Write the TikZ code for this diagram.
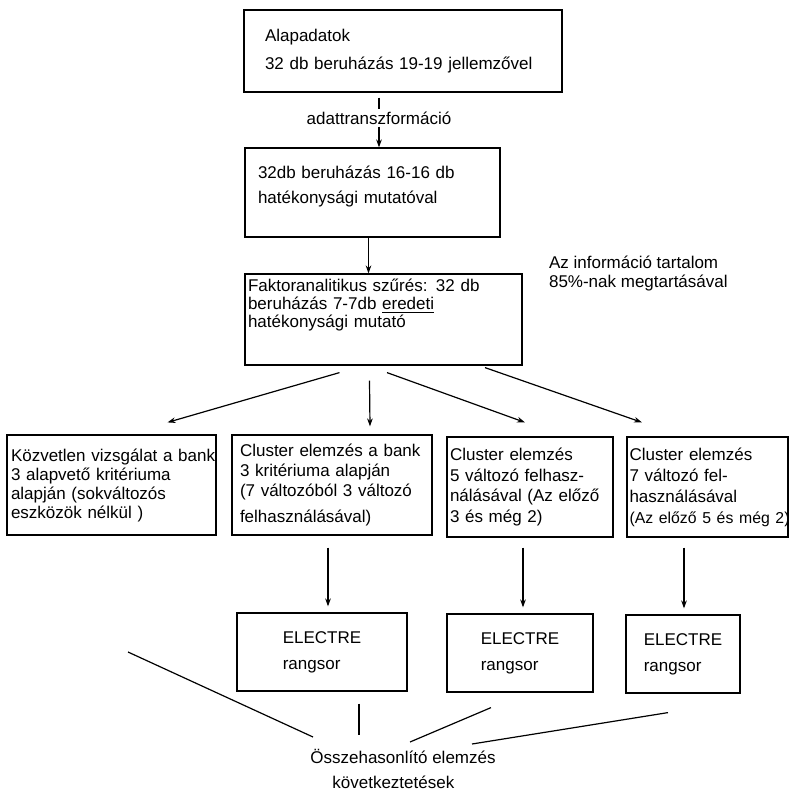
\documentclass[tikz,border=0pt]{standalone}
\usepackage{fontspec}
\setmainfont{Liberation Sans}
\usetikzlibrary{arrows.meta}
\begin{document}
\begin{tikzpicture}[x=0.5pt,y=-0.5pt,
    doboz/.style={draw,line width=0.6pt,align=left,inner ysep=0pt},
    nyil/.style={line width=0.6pt,-{Stealth[length=4pt,width=2.8pt]}},
    vonal/.style={line width=0.6pt}]
    \useasboundingbox (0,0) rectangle (789,793);
    \node[doboz,minimum height=41pt,text width=138pt,inner xsep=10.5pt,font={\fontsize{8.5}{14}\selectfont}] (alap) at (403,51)
        {Alapadatok\\32 db beruházás 19-19 jellemzővel};
    \node[font={\fontsize{8.5}{10}\selectfont},inner sep=1pt] (trans) at (379,118) {adattranszformáció};
    \node[doboz,minimum height=44.5pt,text width=114.5pt,text depth=20pt,inner xsep=6.5pt,font={\fontsize{8.5}{12.5}\selectfont}] (hatek) at (372.5,192.5)
        {32db beruházás 16-16 db\\hatékonysági mutatóval};
    \node[doboz,minimum height=45.5pt,text width=135.5pt,text depth=34.5pt,inner xsep=1.5pt,font={\fontsize{8.5}{9}\selectfont}] (faktor) at (383.5,319.5)
        {Faktoranalitikus szűrés: 32 db\\beruházás 7-7db \underline{eredeti}\\hatékonysági mutató};
    \node[anchor=west,align=left,font={\fontsize{8.5}{9.5}\selectfont}] (info) at (542,274)
        {Az információ tartalom\\85\%-nak megtartásával};
    % also sorok
    \node[doboz,minimum height=50pt,text width=100.5pt,inner xsep=2pt,font={\fontsize{8.5}{9.5}\selectfont}] (kozv) at (111.5,485)
        {\mbox{Közvetlen vizsgálat a bank}\\3 alapvető kritériuma\\alapján (sokváltozós\\eszközök nélkül )};
    \node[doboz,minimum height=50pt,text width=92pt,inner xsep=4pt,font={\fontsize{8.5}{10}\selectfont}] (clus3) at (332,485)
        {Cluster elemzés a bank\\3 kritériuma alapján\\\mbox{(7 változóból 3 változó}\\[3pt]felhasználásával)};
    \node[doboz,minimum height=50pt,text width=80pt,inner xsep=1.5pt,font={\fontsize{8.5}{10.3}\selectfont}] (clus5) at (530,487)
        {Cluster elemzés\\5 változó felhasz-\\nálásával (Az előző\\3 és még 2)};
    \node[doboz,minimum height=50pt,text width=78pt,inner xsep=1.25pt,font={\fontsize{8.5}{10.5}\selectfont}] (clus7) at (707.5,487)
        {Cluster elemzés\\7 változó fel-\\használásával\\\mbox{\fontsize{7.9}{10.5}\selectfont(Az előző 5 és még 2)}};
    % ELECTRE
    \node[doboz,minimum width=85pt,minimum height=39pt,font={\fontsize{8.5}{13}\selectfont}] (el1) at (322,652) {ELECTRE\\rangsor};
    \node[doboz,minimum width=73pt,minimum height=39pt,font={\fontsize{8.5}{13}\selectfont}] (el2) at (520,653) {ELECTRE\\rangsor};
    \node[doboz,minimum width=57pt,minimum height=39pt,font={\fontsize{8.5}{13}\selectfont}] (el3) at (683,654) {ELECTRE\\rangsor};
    \node[anchor=north west,align=left,inner sep=0pt,font={\fontsize{8.5}{12.5}\selectfont}] (ossz) at (310,749)
        {Összehasonlító elemzés\\\hspace*{11pt}következtetések};
    \coordinate (kozvki) at (128,652);
    % nyilak
    \draw[vonal] ([yshift=-2.5pt]alap.south -| trans) -- (trans);
    \draw[nyil] (trans) -- (trans |- hatek.north);
    \draw[nyil] ([xshift=-2pt]hatek.south) -- ([xshift=-2pt]hatek.south |- faktor.north);
    \draw[nyil] ([xshift=-22pt,yshift=-3.5pt]faktor.south) -- ([xshift=28pt,yshift=6pt]kozv.north);
    \draw[nyil] ([xshift=-7pt,yshift=-7.5pt]faktor.south) -- ([xshift=19pt,yshift=4pt]clus3.north);
    \draw[nyil] ([xshift=1.75pt,yshift=-3.5pt]faktor.south) -- ([xshift=-2.5pt,yshift=7pt]clus5.north);
    \draw[nyil] ([xshift=50.75pt,yshift=-1pt]faktor.south) -- ([xshift=-32.75pt,yshift=7pt]clus7.north);
    \draw[nyil] ([xshift=-2pt,yshift=-6pt]clus3.south) -- ([xshift=3pt,yshift=3pt]el1.north);
    \draw[nyil] ([xshift=-3.5pt,yshift=-5pt]clus5.south) -- ([xshift=1.5pt,yshift=3pt]el2.north);
    \draw[nyil] ([xshift=-11.75pt,yshift=-5pt]clus7.south) -- ([xshift=0.5pt,yshift=3pt]el3.north);
    % osszehasonlitas
    \draw[vonal] (kozvki) -- ([xshift=1.5pt,yshift=6pt]ossz.north west);
    \draw[vonal] ([xshift=18.5pt,yshift=-6pt]el1.south) -- ([xshift=24.5pt,yshift=7pt]ossz.north west);
    \draw[vonal] ([xshift=-14.5pt,yshift=-7.5pt]el2.south) -- ([xshift=50pt,yshift=3.5pt]ossz.north west);
    \draw[vonal] ([xshift=-7.5pt,yshift=-9.5pt]el3.south) -- ([xshift=81pt,yshift=2.5pt]ossz.north west);
\end{tikzpicture}
\end{document}
